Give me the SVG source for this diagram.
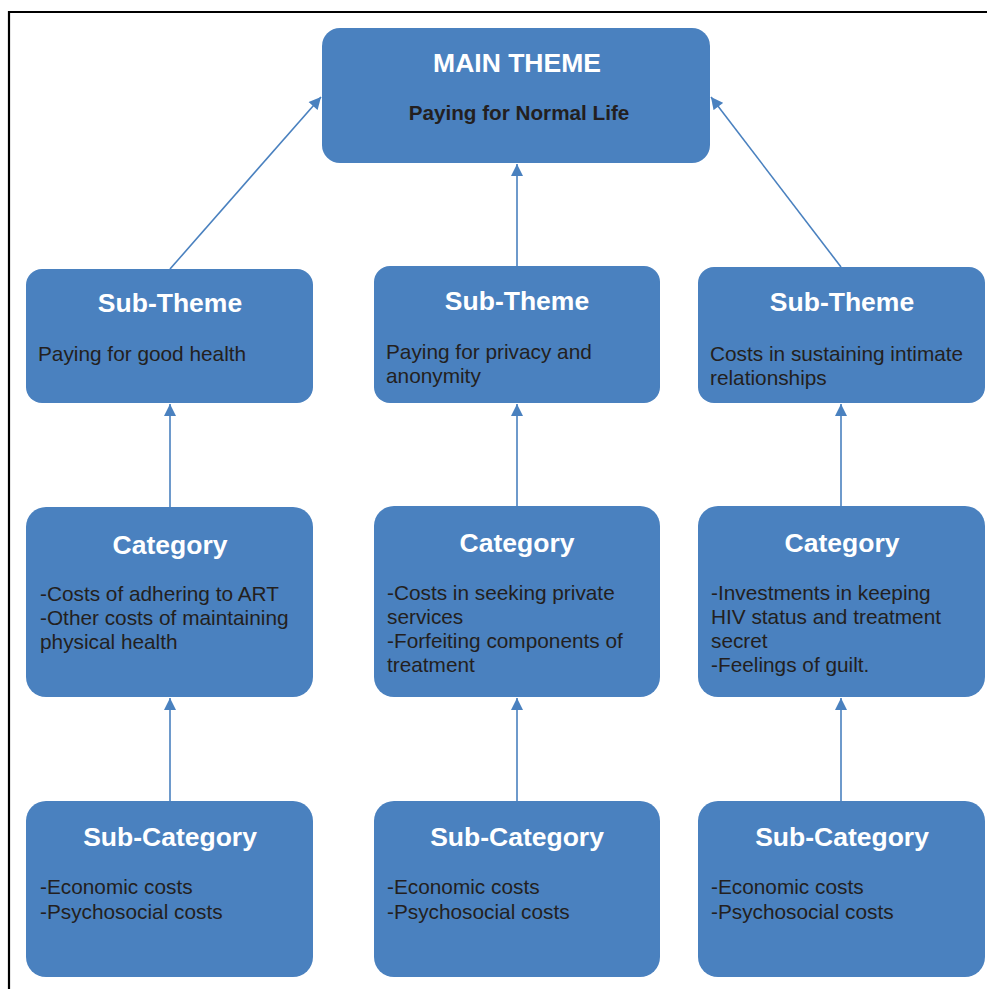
<svg xmlns="http://www.w3.org/2000/svg" width="987" height="989" viewBox="0 0 987 989">
<style>
.box{fill:#4a81bf;}
.t{font-family:"Liberation Sans",Arial,sans-serif;font-weight:bold;font-size:26.5px;fill:#ffffff;text-anchor:middle;}
.b{font-family:"Liberation Sans",Arial,sans-serif;font-size:20.8px;fill:#231f20;}
.bb{font-family:"Liberation Sans",Arial,sans-serif;font-weight:bold;font-size:20.7px;fill:#231f20;text-anchor:middle;}
.c{stroke:#4a81bf;stroke-width:1.6;fill:none;marker-end:url(#ah);}
</style>
<defs>
<marker id="ah" viewBox="0 0 10 10" refX="10" refY="5" markerWidth="8" markerHeight="7.5" orient="auto" markerUnits="strokeWidth">
<path d="M0,0 L10,5 L0,10 z" fill="#4a81bf"/>
</marker>
</defs>
<rect width="987" height="989" fill="#ffffff"/>
<path d="M9,989 L9,12 L987,12" stroke="#000" stroke-width="2.2" fill="none"/>
<g id="connectors">
<line class="c" x1="170" y1="269" x2="321" y2="97"/>
<line class="c" x1="517" y1="266" x2="517" y2="164"/>
<line class="c" x1="841" y1="267" x2="711" y2="97"/>
<line class="c" x1="170" y1="507" x2="170" y2="404"/>
<line class="c" x1="517" y1="506" x2="517" y2="404"/>
<line class="c" x1="841" y1="506" x2="841" y2="404"/>
<line class="c" x1="170" y1="801" x2="170" y2="698"/>
<line class="c" x1="517" y1="801" x2="517" y2="698"/>
<line class="c" x1="841" y1="801" x2="841" y2="698"/>
</g>
<g id="main">
<rect class="box" x="322" y="28" width="388" height="135" rx="18"/>
<text class="t" x="517" y="72">MAIN THEME</text>
<text class="bb" x="519" y="120">Paying for Normal Life</text>
</g>
<g id="subtheme1">
<rect class="box" x="26" y="269" width="287" height="134" rx="16"/>
<text class="t" x="170" y="312">Sub-Theme</text>
<text class="b" x="38" y="361">Paying for good health</text>
</g>
<g id="subtheme2">
<rect class="box" x="374" y="266" width="286" height="137" rx="16"/>
<text class="t" x="517" y="310">Sub-Theme</text>
<text class="b" x="386" y="359">Paying for privacy and</text>
<text class="b" x="386" y="383">anonymity</text>
</g>
<g id="subtheme3">
<rect class="box" x="698" y="267" width="287" height="136" rx="16"/>
<text class="t" x="842" y="311">Sub-Theme</text>
<text class="b" x="710" y="361">Costs in sustaining intimate</text>
<text class="b" x="710" y="385">relationships</text>
</g>
<g id="category1">
<rect class="box" x="26" y="507" width="287" height="190" rx="20"/>
<text class="t" x="170" y="554">Category</text>
<text class="b" x="40" y="601">-Costs of adhering to ART</text>
<text class="b" x="40" y="625">-Other costs of maintaining</text>
<text class="b" x="40" y="649">physical health</text>
</g>
<g id="category2">
<rect class="box" x="374" y="506" width="286" height="191" rx="20"/>
<text class="t" x="517" y="552">Category</text>
<text class="b" x="387" y="600">-Costs in seeking private</text>
<text class="b" x="387" y="624">services</text>
<text class="b" x="387" y="648">-Forfeiting components of</text>
<text class="b" x="387" y="672">treatment</text>
</g>
<g id="category3">
<rect class="box" x="698" y="506" width="287" height="191" rx="20"/>
<text class="t" x="842" y="552">Category</text>
<text class="b" x="711" y="600">-Investments in keeping</text>
<text class="b" x="711" y="624">HIV status and treatment</text>
<text class="b" x="711" y="648">secret</text>
<text class="b" x="711" y="672">-Feelings of guilt.</text>
</g>
<g id="subcategory1">
<rect class="box" x="26" y="801" width="287" height="176" rx="20"/>
<text class="t" x="170" y="846">Sub-Category</text>
<text class="b" x="40" y="894">-Economic costs</text>
<text class="b" x="40" y="919">-Psychosocial costs</text>
</g>
<g id="subcategory2">
<rect class="box" x="374" y="801" width="286" height="176" rx="20"/>
<text class="t" x="517" y="846">Sub-Category</text>
<text class="b" x="387" y="894">-Economic costs</text>
<text class="b" x="387" y="919">-Psychosocial costs</text>
</g>
<g id="subcategory3">
<rect class="box" x="698" y="801" width="287" height="176" rx="20"/>
<text class="t" x="842" y="846">Sub-Category</text>
<text class="b" x="711" y="894">-Economic costs</text>
<text class="b" x="711" y="919">-Psychosocial costs</text>
</g>
</svg>
